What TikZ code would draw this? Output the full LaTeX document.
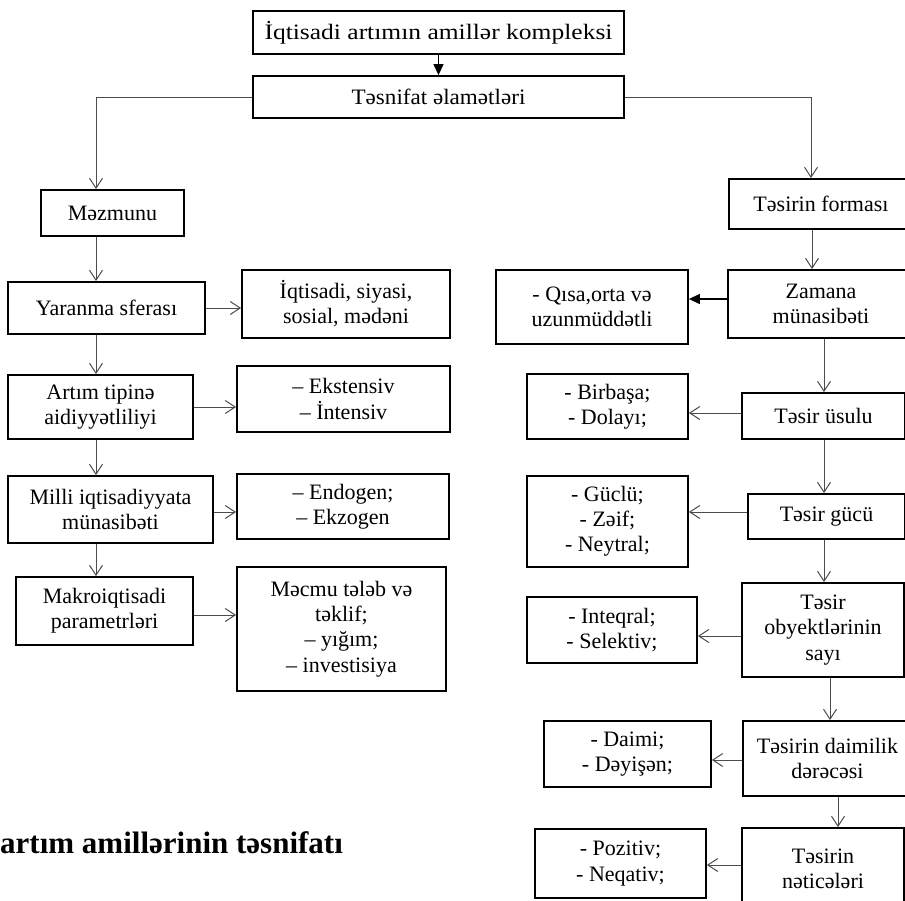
\documentclass[tikz,border=0pt]{standalone}
\usepackage{fontspec}
\setmainfont{Liberation Serif}
\newfontfamily\widefont{Liberation Serif}[FakeStretch=1.16]
\newfontfamily\midfont{Liberation Serif}[FakeStretch=1.05]
\usetikzlibrary{arrows.meta}
\begin{document}
\begin{tikzpicture}[x=1pt,y=-1pt,
  box/.style={draw=black, line width=1.8pt, align=center, inner sep=0pt,
    font=\fontsize{22}{25.2}\selectfont},
  conn/.style={draw=black!70, line width=1pt,
    -{Straight Barb[length=10pt,width=13pt,line width=1pt]}},
  fconn/.style={draw=black, line width=1.2pt, -{Triangle[length=11pt,width=10pt]}},
  titletext/.style={font=\bfseries\fontsize{31}{36}\selectfont, inner sep=0pt, anchor=base west}
]
\clip (0,0) rectangle (905,900);
% top
\node[box, minimum width=371pt, minimum height=43pt] (top) at (438.5,32.5) {\widefont İqtisadi artımın amillər kompleksi};
\node[box, minimum width=371pt, minimum height=42pt] (tas) at (438.5,97) {\midfont Təsnifat əlamətləri};
% left column
\node[box, minimum width=143pt, minimum height=46pt] (mez) at (112.5,213) {Məzmunu};
\node[box, minimum width=197pt, minimum height=52pt] (yar) at (106.5,308) {Yaranma sferası};
\node[box, minimum width=208pt, minimum height=68pt] (iqt) at (346,304) {İqtisadi, siyasi,\\ sosial, mədəni};
\node[box, minimum width=185pt, minimum height=64pt] (art) at (100.5,407) {Artım tipinə\\ aidiyyətliliyi};
\node[box, minimum width=213pt, minimum height=66pt] (eks) at (343.5,399) {– Ekstensiv\\ – İntensiv};
\node[box, minimum width=205pt, minimum height=67pt] (mil) at (110.5,509.5) {Milli iqtisadiyyata\\ münasibəti};
\node[box, minimum width=212pt, minimum height=65pt] (endo) at (343,506.5) {– Endogen;\\ – Ekzogen};
\node[box, minimum width=177pt, minimum height=68pt] (mak) at (104.5,611) {Makroiqtisadi\\ parametrləri};
\node[box, minimum width=209pt, minimum height=124pt] (mcm) at (341.5,629) {Məcmu tələb və\\ təklif;\\ – yığım;\\ – investisiya};
% right column
\node[box, minimum width=184pt, minimum height=50pt] (forma) at (821,204) {Təsirin forması};
\node[box, minimum width=186pt, minimum height=68pt] (zam) at (821,304) {Zamana\\ münasibəti};
\node[box, minimum width=192pt, minimum height=74pt] (qisa) at (592,307) {- Qısa,orta və\\ uzunmüddətli};
\node[box, minimum width=163pt, minimum height=46pt] (usu) at (823.5,416) {Təsir üsulu};
\node[box, minimum width=161pt, minimum height=65pt] (bir) at (607.5,406.5) {- Birbaşa;\\ - Dolayı;};
\node[box, minimum width=157pt, minimum height=45pt] (tguc) at (826.5,516.5) {Təsir gücü};
\node[box, minimum width=161pt, minimum height=91pt] (guc) at (607.5,521.5) {- Güclü;\\ - Zəif;\\ - Neytral;};
\node[box, minimum width=162pt, minimum height=94pt] (obj) at (823,630) {Təsir\\ obyektlərinin\\ sayı};
\node[box, minimum width=170pt, minimum height=66pt] (inq) at (612,630) {- Inteqral;\\ - Selektiv;};
\node[box, minimum width=169pt, minimum height=75pt] (dmk) at (827.5,758.5) {Təsirin daimilik\\ dərəcəsi};
\node[box, minimum width=167pt, minimum height=66pt] (dai) at (627.5,754) {- Daimi;\\ - Dəyişən;};
\node[box, minimum width=162pt, minimum height=82pt] (net) at (823,869) {Təsirin\\ nəticələri};
\node[box, minimum width=171pt, minimum height=69pt] (poz) at (620.5,863.5) {- Pozitiv;\\ - Neqativ;};
% title
\node[titletext] (title) at (0,853) {artım amillərinin təsnifatı};
% helper coordinates
\coordinate (xL) at (96,0);
\coordinate (xR) at (811,0);
\coordinate (xA) at (812,0);
\coordinate (xB) at (824,0);
\coordinate (xC) at (830,0);
\coordinate (xD) at (838,0);
\coordinate (y1) at (0,512);
\coordinate (y2) at (0,615);
\coordinate (y3) at (0,299);
\coordinate (y4) at (0,413);
\coordinate (y5) at (0,512);
\coordinate (y6) at (0,636);
\coordinate (y7) at (0,760);
\coordinate (y8) at (0,865);
% connectors
\draw[fconn] (top.south) -- (tas.north);
\draw[conn] (tas.west) -| (mez.north -| xL);
\draw[conn] (tas.east) -| (forma.north -| xR);
\draw[conn] (mez.south -| xL) -- (yar.north -| xL);
\draw[conn] (yar.east) -- (iqt.west |- yar.east);
\draw[conn] (yar.south -| xL) -- (art.north -| xL);
\draw[conn] (art.east) -- (eks.west |- art.east);
\draw[conn] (art.south -| xL) -- (mil.north -| xL);
\draw[conn] (mil.east |- y1) -- (endo.west |- y1);
\draw[conn] (mil.south -| xL) -- (mak.north -| xL);
\draw[conn] (mak.east |- y2) -- (mcm.west |- y2);
\draw[conn] (forma.south -| xA) -- (zam.north -| xA);
\draw[fconn] (zam.west |- y3) -- (qisa.east |- y3);
\draw[conn] (zam.south -| xB) -- (usu.north -| xB);
\draw[conn] (usu.west |- y4) -- (bir.east |- y4);
\draw[conn] (usu.south -| xB) -- (tguc.north -| xB);
\draw[conn] (tguc.west |- y5) -- (guc.east |- y5);
\draw[conn] (tguc.south -| xB) -- (obj.north -| xB);
\draw[conn] (obj.west |- y6) -- (inq.east |- y6);
\draw[conn] (obj.south -| xC) -- (dmk.north -| xC);
\draw[conn] (dmk.west |- y7) -- (dai.east |- y7);
\draw[conn] (dmk.south -| xD) -- (net.north -| xD);
\draw[conn] (net.west |- y8) -- (poz.east |- y8);
\end{tikzpicture}
\end{document}
